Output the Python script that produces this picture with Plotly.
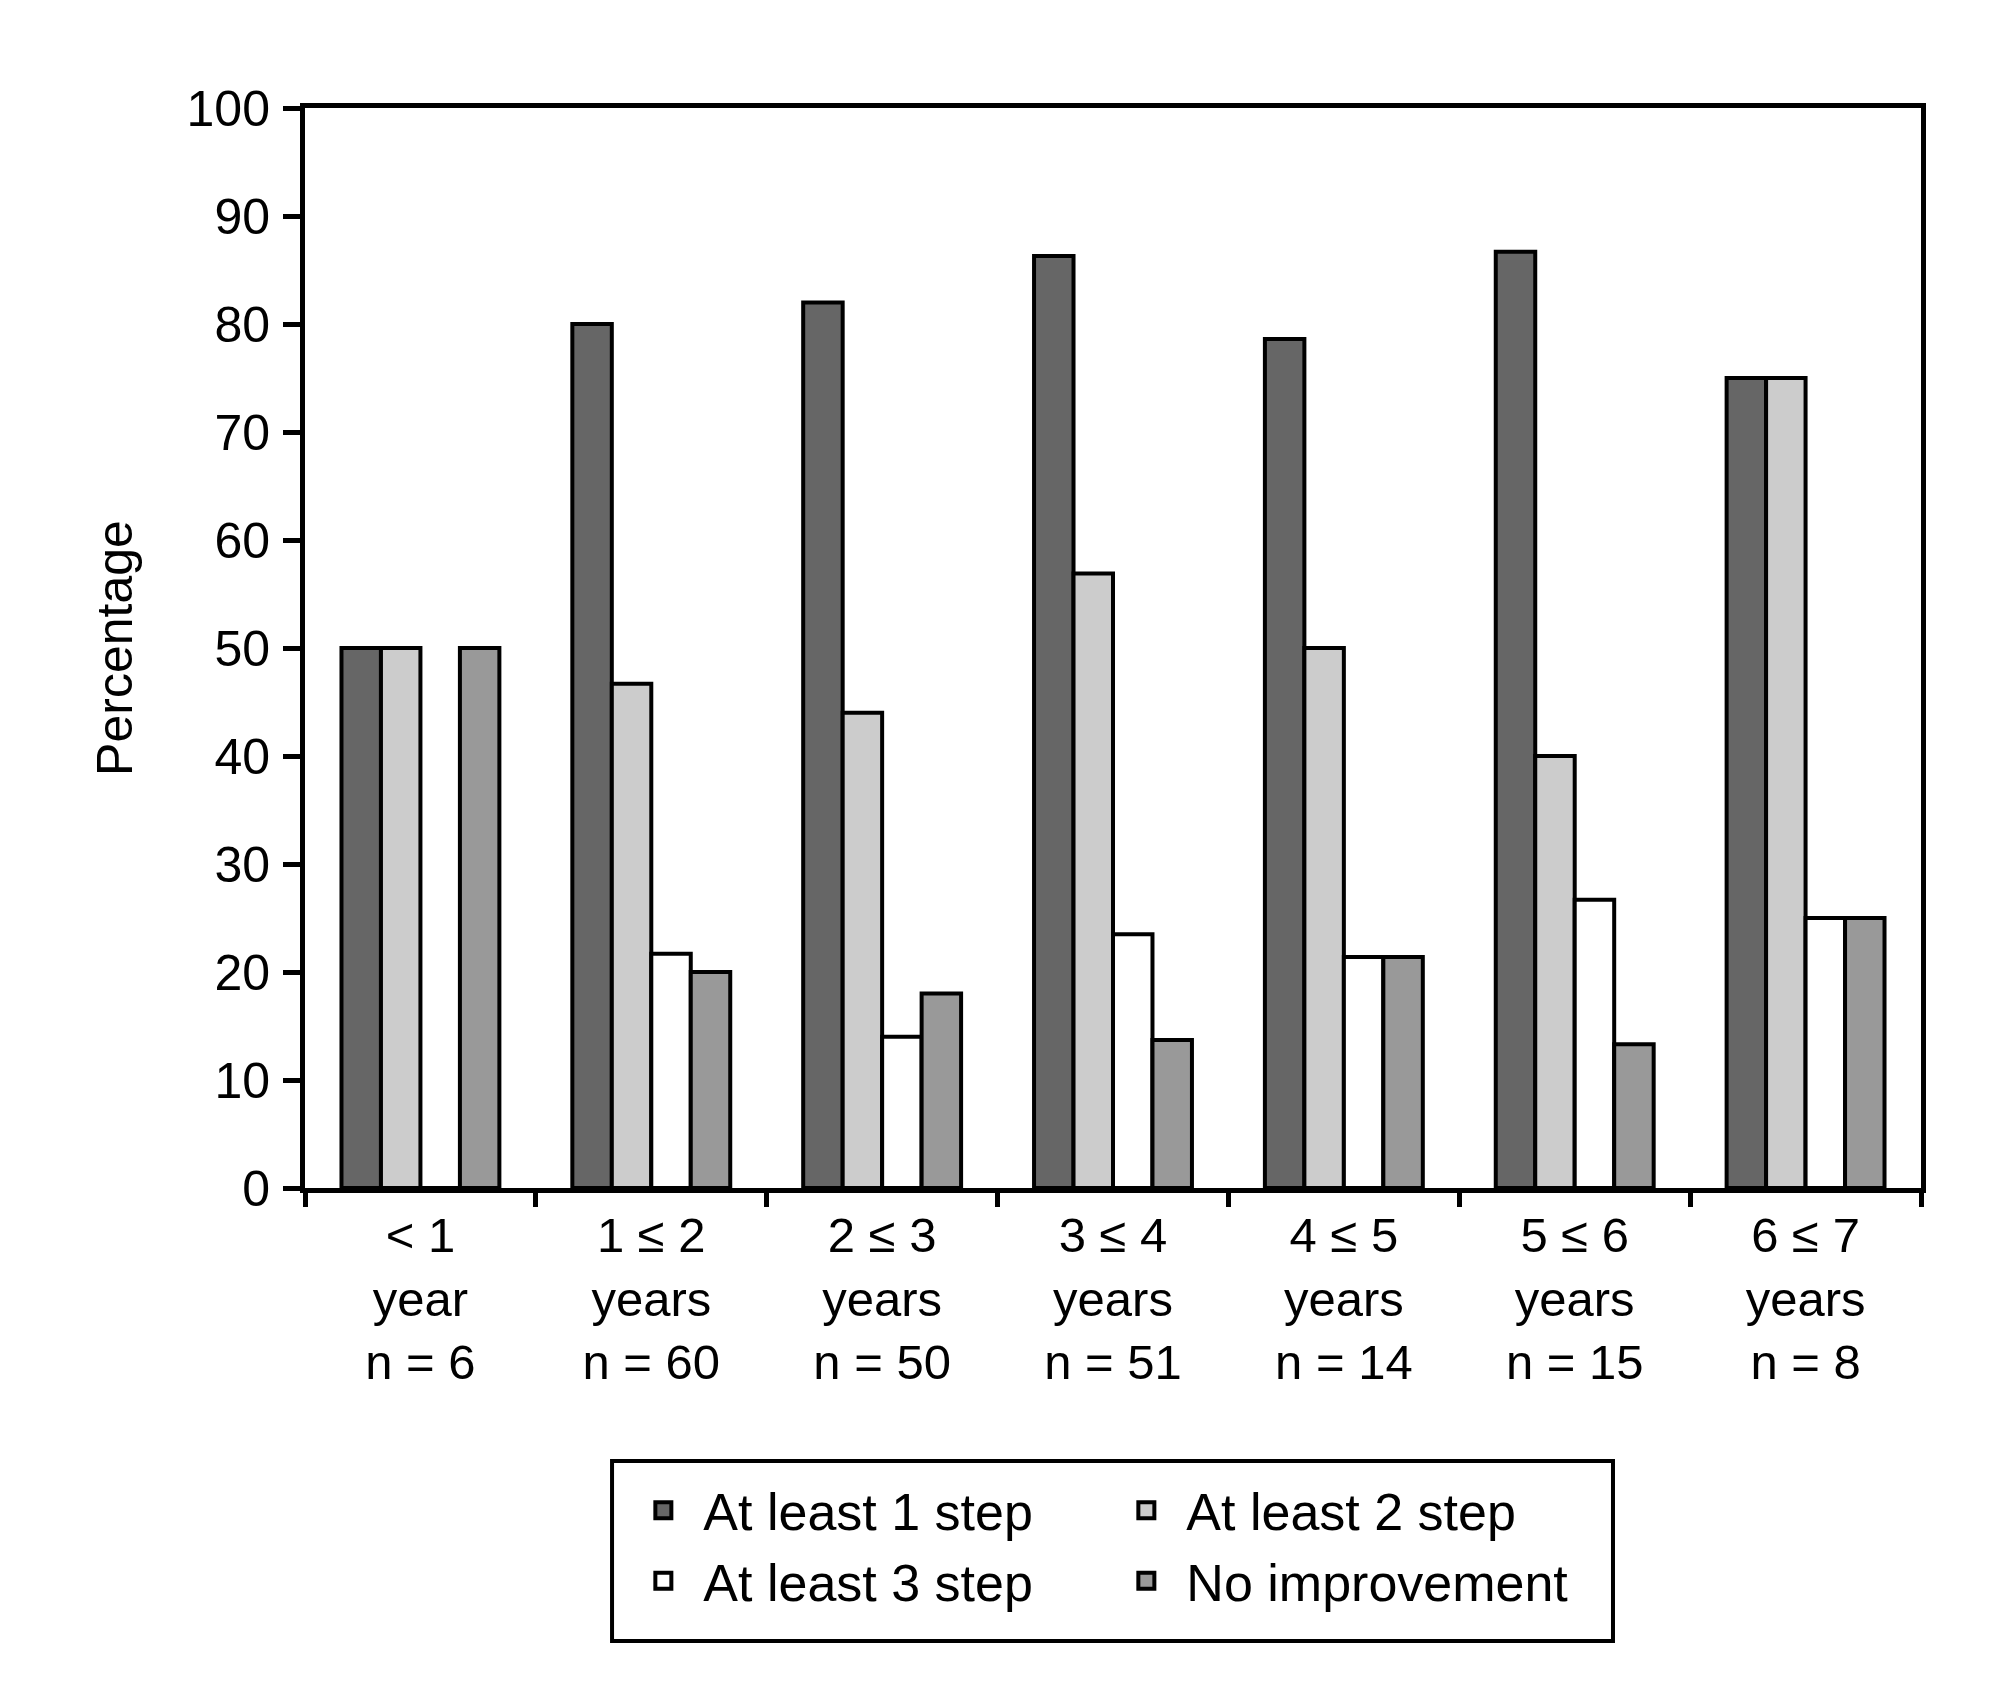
import plotly.graph_objects as go

# ---- data ----
ranges = ["< 1", "1 ≤ 2", "2 ≤ 3", "3 ≤ 4", "4 ≤ 5", "5 ≤ 6", "6 ≤ 7"]
units = ["year", "years", "years", "years", "years", "years", "years"]
n_values = [6, 60, 50, 51, 14, 15, 8]

series_names = ["At least 1 step", "At least 2 step", "At least 3 step", "No improvement"]
at_least_1 = [50, 80, 82, 86.3, 78.6, 86.7, 75]
at_least_2 = [50, 46.7, 44, 56.9, 50, 40, 75]
at_least_3 = [0, 21.7, 14, 23.5, 21.4, 26.7, 25]
no_improvement = [50, 20, 18, 13.7, 21.4, 13.3, 25]

colors = ["#666666", "#cccccc", "#ffffff", "#999999"]
legend_columns = ["a", "b", "a", "b"]

categories = [
    f"{r.replace('<', '&lt;')}<br>{u}<br>n = {n}"
    for r, u, n in zip(ranges, units, n_values)
]

FONT = "Liberation Sans, Arial, sans-serif"

fig = go.Figure()
for name, vals, col in zip(series_names,
                           [at_least_1, at_least_2, at_least_3, no_improvement],
                           colors):
    fig.add_trace(go.Bar(
        x=categories, y=vals, name=name, showlegend=False,
        marker=dict(color=col, line=dict(color="black", width=4)),
    ))

# legend-only entries (larger square swatches)
for name, col, grp in zip(series_names, colors, legend_columns):
    fig.add_trace(go.Scatter(
        x=[None], y=[None], mode="markers", name=name, legendgroup=grp,
        marker=dict(symbol="square", size=16, color=col,
                    line=dict(color="black", width=4)),
        hoverinfo="skip",
    ))

fig.update_layout(
    width=2006, height=1684,
    paper_bgcolor="white", plot_bgcolor="white",
    margin=dict(l=297, r=93, t=100, b=504),
    barmode="group", bargap=0.316, bargroupgap=0,
    font=dict(family=FONT, size=50, color="black"),
    showlegend=True,
    legend=dict(
        orientation="h", traceorder="grouped", groupclick="toggleitem",
        x=0.197, xanchor="left", y=-0.261, yanchor="top",
        borderwidth=0, bgcolor="rgba(0,0,0,0)",
        font=dict(family=FONT, size=52, color="black"),
        itemwidth=70, entrywidth=398, tracegroupgap=0,
    ),
    shapes=[dict(
        type="rect", xref="paper", yref="paper",
        x0=0.19, x1=0.8094, y0=-0.4194, y1=-0.2528,
        line=dict(color="black", width=4), fillcolor="rgba(0,0,0,0)",
    )],
)

fig.update_xaxes(
    type="category", showline=True, linecolor="black", linewidth=5, mirror=True,
    ticks="outside", tickson="boundaries", ticklen=14, tickwidth=5, tickcolor="black",
    showgrid=False, zeroline=False,
    tickfont=dict(family=FONT, size=49, color="black"),
)
fig.update_yaxes(
    range=[0, 100], dtick=10, showline=True, linecolor="black", linewidth=5, mirror=True,
    ticks="outside", ticklen=17, tickwidth=5, tickcolor="black",
    ticklabelstandoff=3,
    showgrid=False, zeroline=False,
    tickfont=dict(family=FONT, size=50, color="black"),
    title=dict(text="Percentage", font=dict(family=FONT, size=50, color="black"), standoff=40),
)

fig.write_html("out.html")
